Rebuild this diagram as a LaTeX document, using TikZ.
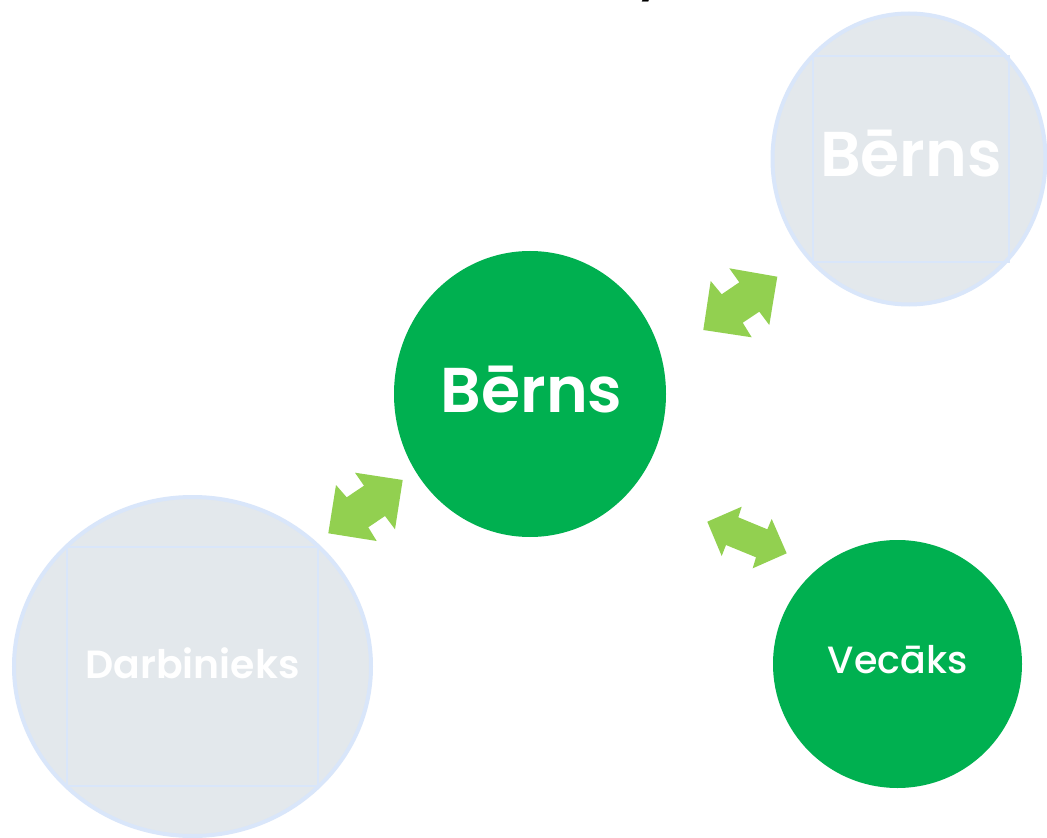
\documentclass[tikz,border=0pt]{standalone}
\usepackage{fontspec}
\setmainfont{Poppins}
\newfontfamily\popsemi{Poppins SemiBold}
\newfontfamily\popmed{Poppins Medium}
\usetikzlibrary{shapes.geometric}
\definecolor{mainGreen}{HTML}{00B050}
\definecolor{arrowGreen}{HTML}{92D050}
\definecolor{greyFill}{HTML}{E3E8EC}
\definecolor{paleBlue}{HTML}{D9E6FA}
\tikzset{
  x=0.75pt, y=-0.75pt,
  greennode/.style={ellipse, fill=mainGreen, draw=none, inner sep=0pt},
  greynode/.style={ellipse, fill=greyFill, draw=paleBlue, line width=3pt, inner sep=0pt},
  innersq/.style={draw=paleBlue, line width=1.1pt},
  blockarrow/.style={fill=arrowGreen, draw=none},
  lbl/.style={text=white, anchor=base, inner sep=0pt}
}
\begin{document}
\begin{tikzpicture}
\useasboundingbox[fill=white] (0,0) rectangle (1047,838);
% cut-off title fragment
\node[anchor=base, inner sep=0pt, font=\popsemi\fontsize{33pt}{38pt}\selectfont] (title) at (651,-9) {y};
% circles
\node[greynode, minimum width=204.75pt, minimum height=218.25pt] (tr) at (909,159) {};
\draw[innersq] (813,56) rectangle (1009,262);
\node[greynode, minimum width=267.75pt, minimum height=254.25pt] (bl) at (192.5,666.5) {};
\draw[innersq] (67,547) rectangle (318,786);
\node[greennode, minimum width=204pt, minimum height=214.5pt] (center) at (530,394) {};
\node[greennode, minimum width=186.75pt, minimum height=186pt] (br) at (897.5,664) {};
% labels
\node[lbl, font=\popsemi\fontsize{47.5pt}{57pt}\selectfont] (t1) at (531.5,412) {Bērns};
\node[lbl, font=\popsemi\fontsize{47.5pt}{57pt}\selectfont] (t2) at (911,177) {Bērns};
\node[lbl, font=\popsemi\fontsize{29.5pt}{35pt}\selectfont] (t3) at (192.5,678) {Darbinieks};
\node[lbl, font=\popmed\fontsize{28.5pt}{34pt}\selectfont] (t4) at (897.5,673) {Vecāks};
% block arrows
\fill[blockarrow] (729.3,268.3) -- (777.3,276.7) -- (769.3,325) -- (759.3,311.7) -- (742.7,322.7) -- (751.7,337.3) -- (703.3,330) -- (710.7,281) -- (721.7,294.3) -- (739.3,282.3) -- cycle;
\fill[blockarrow] (355,472.7) -- (402.7,480) -- (395,529.3) -- (385,516) -- (368.3,527.3) -- (376.7,541) -- (328.3,533.3) -- (336,485) -- (346.7,497.3) -- (364,485.7) -- cycle;
\fill[blockarrow] (707.3,521.7) -- (741.7,506.7) -- (738.3,517.3) -- (767.3,529.3) -- (771.7,519) -- (786.7,553.3) -- (752.7,568.3) -- (756,557.3) -- (726,545) -- (721.7,556) -- cycle;
\end{tikzpicture}
\end{document}
